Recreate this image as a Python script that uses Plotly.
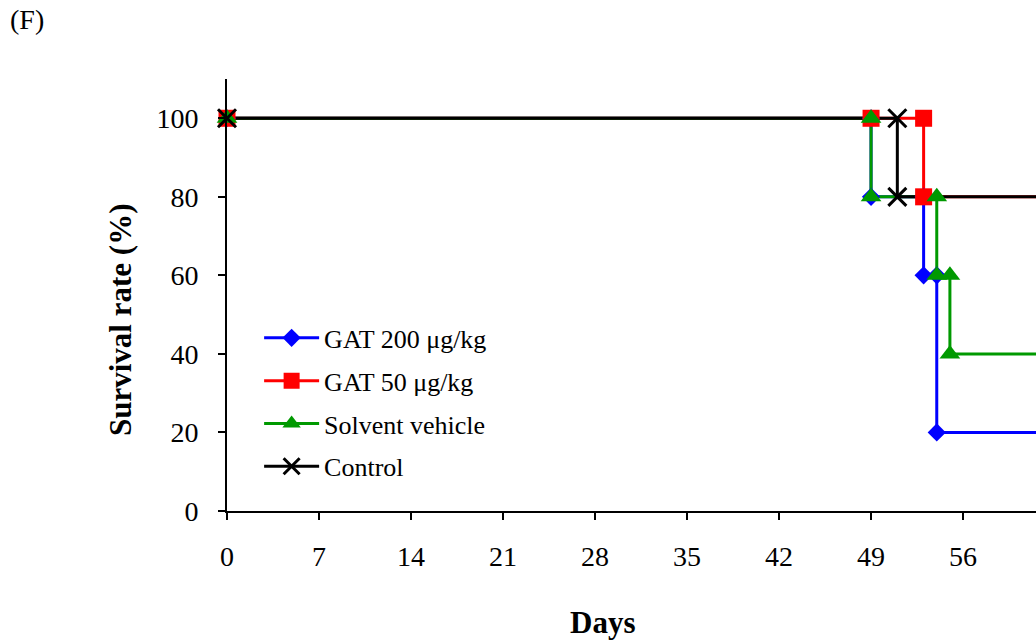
import plotly.graph_objects as go

# Kaplan-Meier style survival steps (day, survival %)
# Each series ends past the last drawn day so the steps run to the edge.
gat200_days = [0, 49, 49, 53, 53, 54, 54, 63]
gat200_surv = [100, 100, 80, 80, 60, 60, 20, 20]

gat50_days = [0, 49, 53, 53, 63]
gat50_surv = [100, 100, 100, 80, 80]

vehicle_days = [0, 49, 49, 54, 54, 55, 55, 63]
vehicle_surv = [100, 100, 80, 80, 60, 60, 40, 40]

control_days = [0, 51, 51, 63]
control_surv = [100, 100, 80, 80]

x_ticks = [0, 7, 14, 21, 28, 35, 42, 49, 56]
y_ticks = [0, 20, 40, 60, 80, 100]

series = [
    ("GAT 200 \u03bcg/kg", gat200_days, gat200_surv, "#0000ff", "diamond", 14, 0),
    ("GAT 50 \u03bcg/kg", gat50_days, gat50_surv, "#ff0000", "square", 17, 0),
    ("Solvent vehicle", vehicle_days, vehicle_surv, "#009900", "triangle-up", 18, 0),
    ("Control", control_days, control_surv, "#000000", "x-thin", 18, 3),
]

SERIF = "Liberation Serif, Times New Roman, serif"

fig = go.Figure()

# step lines first, so every marker sits above every line
for name, xs, ys, color, sym, size, lw in series:
    fig.add_trace(go.Scatter(
        x=xs, y=ys, mode="lines", showlegend=False, hoverinfo="skip",
        line=dict(color=color, width=3),
    ))

for name, xs, ys, color, sym, size, lw in series:
    mk = dict(symbol=sym, size=size, color=color)
    if lw:
        mk["line"] = dict(color=color, width=lw)
    fig.add_trace(go.Scatter(
        x=xs, y=ys, mode="markers", showlegend=False, cliponaxis=False,
        marker=mk, name=name,
    ))

# legend keys (line + marker)
for i, (name, xs, ys, color, sym, size, lw) in enumerate(series):
    mk = dict(symbol=sym, size=min(size, 16), color=color)
    if lw:
        mk["line"] = dict(color=color, width=lw)
    fig.add_trace(go.Scatter(
        x=[None], y=[None], mode="lines+markers", name=name,
        legendgroup=f"g{i}", line=dict(color=color, width=3), marker=mk,
    ))

fig.update_layout(
    width=1036, height=643,
    margin=dict(l=227, r=0, t=79, b=132, autoexpand=False),
    paper_bgcolor="white", plot_bgcolor="white",
    font=dict(family=SERIF, color="black", size=28),
    showlegend=True,
    legend=dict(
        x=0.0397, y=0.455, xanchor="left", yanchor="top",
        bgcolor="rgba(0,0,0,0)", font=dict(size=26, family=SERIF),
        traceorder="grouped", tracegroupgap=6, itemwidth=55,
    ),
    xaxis=dict(
        range=[0, 61.55], tickvals=x_ticks, ticks="outside", ticklen=7,
        tickwidth=2, tickcolor="black", showline=True, linecolor="black",
        linewidth=2, showgrid=False, zeroline=False,
        tickfont=dict(size=28, family=SERIF), ticklabelstandoff=12,
    ),
    yaxis=dict(
        range=[0, 110], tickvals=y_ticks, ticks="outside", ticklen=7,
        tickwidth=2, tickcolor="black", showline=True, linecolor="black",
        linewidth=2, showgrid=False, zeroline=False,
        tickfont=dict(size=28, family=SERIF), ticklabelstandoff=14,
    ),
    annotations=[
        dict(text="<b>Days</b>", x=602, y=622, showarrow=False,
             font=dict(size=31, family=SERIF)),
        dict(text="<b>Survival rate (%)</b>", x=120, y=320, textangle=-90,
             showarrow=False, font=dict(size=31, family=SERIF)),
        dict(text="(F)", x=27, y=20, showarrow=False,
             font=dict(size=28, family=SERIF)),
    ],
)

# annotation positions above are in pixels; convert to paper fractions
plot_w = 1036 - 227
plot_h = 643 - 79 - 132
for a in fig.layout.annotations:
    px, py = a.x, a.y
    a.xref = "paper"
    a.yref = "paper"
    a.x = (px - 227) / plot_w
    a.y = (643 - 132 - py) / plot_h
    a.xanchor = "center"
    a.yanchor = "middle"

fig.write_html("out.html")
